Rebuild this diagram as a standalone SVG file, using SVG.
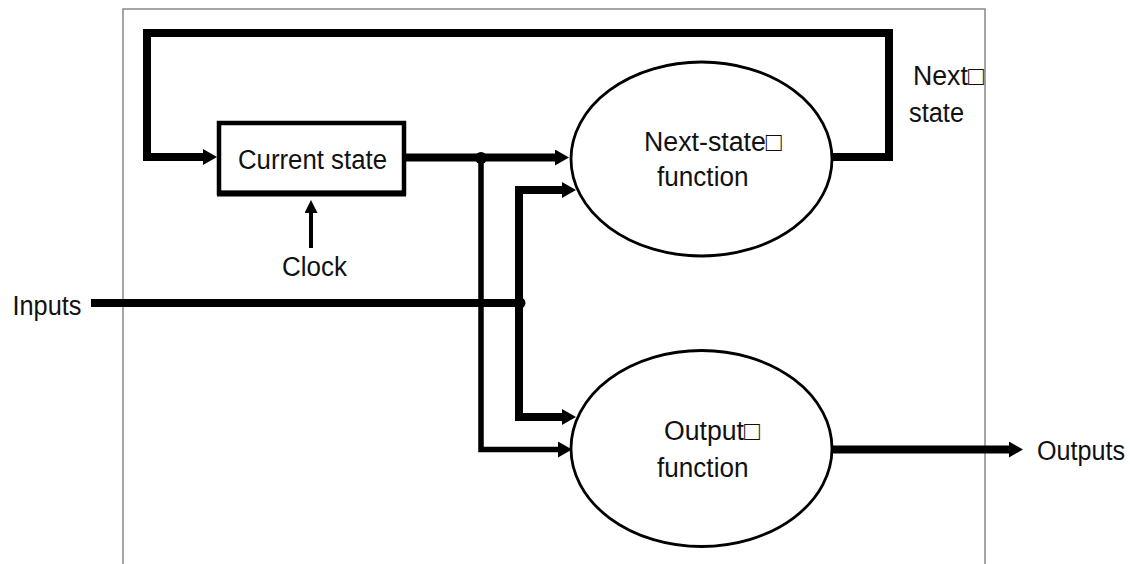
<svg xmlns="http://www.w3.org/2000/svg" width="1130" height="564" viewBox="0 0 1130 564">
<style>
  .lbl { font-family: "Liberation Sans", Arial, sans-serif; font-size: 27px; fill: #111; }
  .frame { fill: none; stroke: #888; stroke-width: 1.5; }
  .thick { fill: none; stroke: #000; stroke-width: 8; stroke-linejoin: miter; stroke-linecap: butt; }
  .mid { fill: none; stroke: #000; stroke-width: 5.5; stroke-linejoin: miter; }
  .thin { fill: none; stroke: #000; stroke-width: 4; }
  .node { fill: #fff; stroke: #000; }
</style>
<defs>
  <marker id="ah" markerUnits="userSpaceOnUse" markerWidth="15" markerHeight="16" refX="1" refY="8" orient="auto">
    <path d="M0,0 L14,8 L0,16 Z" fill="#000"/>
  </marker>
  <marker id="ahs" markerUnits="userSpaceOnUse" markerWidth="14" markerHeight="13" refX="1" refY="6.5" orient="auto">
    <path d="M0,0 L13,6.5 L0,13 Z" fill="#000"/>
  </marker>
</defs>
<rect width="1130" height="564" fill="#fff"/>
<path class="frame" d="M123,564 V9 H985 V564"/>

<g id="connectors">
  <path class="thick" d="M830,157 H889 V33 H147 V157 H204" marker-end="url(#ah)"/>
  <path class="thick" d="M404,157.5 H556" marker-end="url(#ah)"/>
  <path class="mid" d="M481,158 V449.5 H559" marker-end="url(#ah)"/>
  <path class="thick" d="M91,303 H520"/>
  <path class="thick" d="M519,303 V190 H563" marker-end="url(#ah)"/>
  <path class="thick" d="M519,303 V417 H563" marker-end="url(#ah)"/>
  <path class="thin" d="M311,248 V212" marker-end="url(#ahs)"/>
  <path class="thick" d="M831,449.5 H1010" stroke-width="7" marker-end="url(#ah)"/>
  <circle cx="481" cy="158" r="6" fill="#000"/>
  <circle cx="520" cy="303" r="5.5" fill="#000"/>
</g>

<g id="current-state">
  <rect class="node" x="219" y="123" width="185" height="70" stroke-width="4.5"/>
  <line x1="217" y1="193.5" x2="406" y2="193.5" stroke="#000" stroke-width="6"/>
  <text class="lbl" x="238" y="169" textLength="149" lengthAdjust="spacingAndGlyphs">Current state</text>
</g>

<g id="next-state-function">
  <ellipse class="node" cx="701.5" cy="159" rx="130.5" ry="97" stroke-width="2.8"/>
  <text class="lbl" x="644" y="150.5" textLength="138" lengthAdjust="spacingAndGlyphs">Next-state□</text>
  <text class="lbl" x="657" y="186" textLength="91.5" lengthAdjust="spacingAndGlyphs">function</text>
</g>

<g id="output-function">
  <ellipse class="node" cx="701.5" cy="448.5" rx="130.5" ry="98" stroke-width="2.8"/>
  <text class="lbl" x="664" y="440" textLength="96" lengthAdjust="spacingAndGlyphs">Output□</text>
  <text class="lbl" x="657" y="476.5" textLength="91.5" lengthAdjust="spacingAndGlyphs">function</text>
</g>

<g id="clock">
  <text class="lbl" x="282" y="276" textLength="65" lengthAdjust="spacingAndGlyphs">Clock</text>
</g>
<g id="inputs">
  <text class="lbl" x="12.5" y="315" textLength="69" lengthAdjust="spacingAndGlyphs">Inputs</text>
</g>
<g id="outputs">
  <text class="lbl" x="1037" y="460" textLength="88" lengthAdjust="spacingAndGlyphs">Outputs</text>
</g>
<g id="next-state-label">
  <text class="lbl" x="913" y="85" textLength="71" lengthAdjust="spacingAndGlyphs">Next□</text>
  <text class="lbl" x="909" y="121.5" textLength="55" lengthAdjust="spacingAndGlyphs">state</text>
</g>
</svg>
